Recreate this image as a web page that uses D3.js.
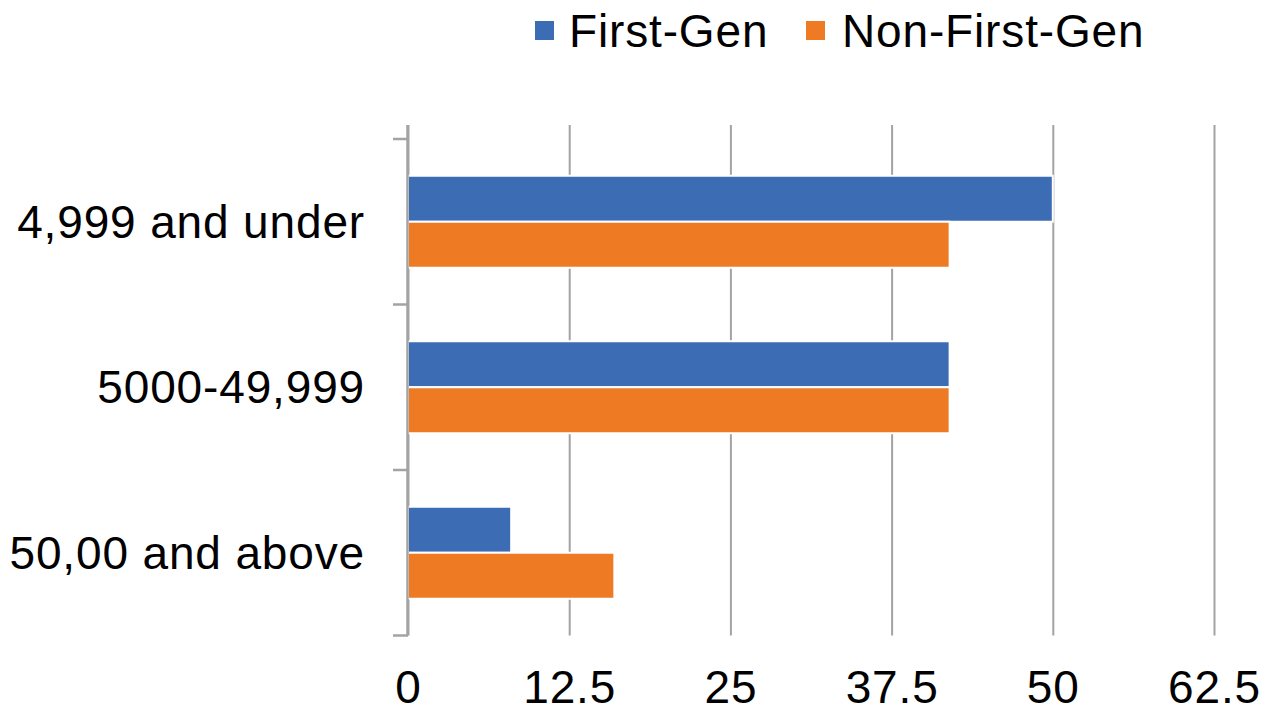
<!DOCTYPE html>
<html>
<head>
<meta charset="utf-8">
<script src="https://cdn.jsdelivr.net/npm/d3@7"></script>
<style>
  html, body { margin: 0; padding: 0; background: #fff; }
  svg { display: block; }
  text { font-family: "Liberation Sans", Arial, sans-serif; fill: #000; letter-spacing: 0.85px; }
</style>
</head>
<body>
<svg id="chart" width="1264" height="712"></svg>
<script>
// Household income bands and the share of respondents in each
const categories = ["4,999 and under", "5000-49,999", "50,00 and above"];
const seriesNames = ["First-Gen", "Non-First-Gen"];
const firstGen = [50, 42, 8];
const nonFirstGen = [42, 42, 16];
const xTicks = [0, 12.5, 25, 37.5, 50, 62.5];
const colors = ["#3c6cb4", "#ee7b24"];

const svg = d3.select("#chart");
const plot = { left: 408, right: 1214, top: 139, bottom: 635.5, gridTop: 125 };

const x = d3.scaleLinear().domain([0, 62.5]).range([plot.left, plot.right]);
const y = d3.scaleBand().domain(categories).range([plot.top, plot.bottom]).paddingInner(0).paddingOuter(0);
const inner = d3.scaleBand().domain(seriesNames).range([0, 92]);
const groupOffset = (y.bandwidth() - 92) / 2;

const rows = categories.map((c, i) => ({ cat: c, values: [firstGen[i], nonFirstGen[i]] }));

// vertical gridlines
const grid = svg.append("g")
  .attr("transform", `translate(0,${plot.bottom})`)
  .call(d3.axisBottom(x).tickValues(xTicks).tickSize(-(plot.bottom - plot.gridTop)).tickFormat(""));
grid.select(".domain").remove();
grid.selectAll(".tick line").attr("stroke", "#a3a3a3").attr("stroke-width", 2);

// bars
const groups = svg.append("g").selectAll("g")
  .data(rows).join("g")
  .attr("transform", d => `translate(0,${y(d.cat) + groupOffset})`);

groups.selectAll("rect")
  .data(d => d.values.map((v, k) => ({ v, k })))
  .join("rect")
  .attr("x", x(0))
  .attr("y", d => inner(seriesNames[d.k]))
  .attr("width", d => x(d.v) - x(0))
  .attr("height", inner.bandwidth())
  .attr("fill", d => colors[d.k])
  .attr("stroke", "#fff")
  .attr("stroke-width", 2);

// category axis with outward ticks between bands
const boundaries = [0, 1, 2, 3].map(i => plot.top + i * y.bandwidth());
const yAxis = svg.append("g");
yAxis.append("line")
  .attr("x1", x(0) - 0.5).attr("x2", x(0) - 0.5)
  .attr("y1", plot.gridTop).attr("y2", plot.bottom)
  .attr("stroke", "#a3a3a3").attr("stroke-width", 2.5);
yAxis.selectAll("line.tk").data(boundaries).join("line")
  .attr("class", "tk")
  .attr("x1", x(0) - 15).attr("x2", x(0))
  .attr("y1", d => d).attr("y2", d => d)
  .attr("stroke", "#a3a3a3").attr("stroke-width", 2.5);

// category labels
svg.append("g").selectAll("text")
  .data(categories).join("text")
  .attr("x", 365)
  .attr("y", d => y(d) + y.bandwidth() / 2 + 16)
  .attr("text-anchor", "end")
  .attr("font-size", 46)
  .text(d => d);

// value axis labels
const xAxis = svg.append("g")
  .attr("transform", `translate(0,${plot.bottom})`)
  .call(d3.axisBottom(x).tickValues(xTicks).tickSize(0).tickPadding(0).tickFormat(d => String(d)));
xAxis.select(".domain").remove();
xAxis.selectAll(".tick text")
  .attr("font-size", 46)
  .attr("font-family", "'Liberation Sans', Arial, sans-serif")
  .attr("fill", "#000")
  .attr("dy", null)
  .attr("y", 67);

// legend
const legendItems = [
  { name: seriesNames[0], color: colors[0], sx: 535, tx: 569 },
  { name: seriesNames[1], color: colors[1], sx: 806, tx: 842 }
];
const legend = svg.append("g");
legend.selectAll("rect").data(legendItems).join("rect")
  .attr("x", d => d.sx).attr("y", 21)
  .attr("width", 19).attr("height", 19)
  .attr("fill", d => d.color);
legend.selectAll("text").data(legendItems).join("text")
  .attr("x", d => d.tx).attr("y", 47)
  .attr("font-size", 46)
  .text(d => d.name);
</script>
</body>
</html>
